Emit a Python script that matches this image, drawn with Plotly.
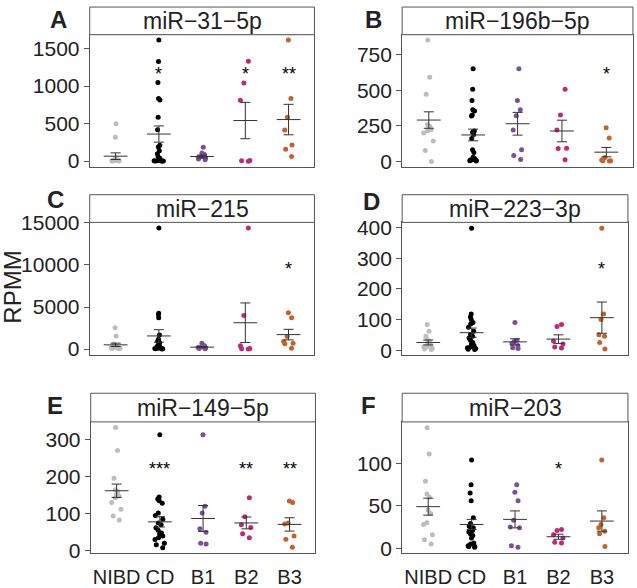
import plotly.graph_objects as go

# ---------------- data ----------------
groups = ["NIBD", "CD", "B1", "B2", "B3"]
group_colors = ["#BDBDBD", "#000000", "#7B4F9D", "#C2287A", "#C5622B"]

# A: miR-31-5p
mir31_5p = [
    [500, 320, 40, 30, 25, 20, 15, 10, 8, 5, 5, 3, 2],
    [1615, 1329, 1047, 836, 814, 585, 418, 211, 189, 140, 100, 60, 40, 20, 10, 5, 5, 3, 2, 0],
    [185, 110, 90, 60, 50, 40, 30, 20],
    [1330, 1040, 810, 10, 5, 0],
    [1615, 836, 585, 414, 216, 158, 62],
]
mir31_5p_mean = [66, 361, 62, 541, 554]
mir31_5p_se = [44, 108, 20, 242, 203]
mir31_5p_sig = ["", "*", "", "*", "**"]
mir31_5p_sig_y = [0, 1197, 0, 1197, 1197]

# B: miR-196b-5p
mir196b_5p = [
    [855, 592, 473, 260, 245, 233, 225, 215, 200, 144, 77, 0],
    [652, 508, 429, 363, 355, 326, 320, 214, 205, 190, 161, 82, 63, 30, 20, 12, 10, 8, 5, 3],
    [652, 429, 363, 321, 221, 82, 42, 14],
    [508, 326, 221, 93, 90, 12],
    [237, 165, 28, 10, 5, 5, 2],
]
mir196b_5p_mean = [291, 186, 265, 214, 65]
mir196b_5p_se = [58, 41, 80, 76, 33]
mir196b_5p_sig = ["", "", "", "", "*"]
mir196b_5p_sig_y = [0, 0, 0, 0, 633]

# C: miR-215
mir215 = [
    [2545, 1566, 600, 450, 350, 300, 250, 200, 150, 100, 80, 50],
    [14371, 4268, 4073, 3720, 1684, 1175, 950, 750, 500, 400, 300, 250, 200, 150, 120, 100, 80, 60, 40, 30],
    [700, 400, 250, 200, 150, 80, 50],
    [14371, 3994, 400, 80, 50, 30],
    [4307, 3720, 1500, 900, 700, 650, 100],
]
mir215_mean = [509, 1566, 235, 3133, 1723]
mir215_se = [200, 744, 60, 2350, 627]
mir215_sig = ["", "", "", "", "*"]
mir215_sig_y = [0, 0, 0, 0, 9868]

# D: miR-223-3p
mir223_3p = [
    [84, 62, 45, 35, 30, 22, 18, 12, 10, 6, 4, 2],
    [398, 118, 108, 100, 90, 85, 75, 62, 50, 45, 40, 32, 25, 20, 15, 10, 8, 5, 3, 2],
    [90, 32, 28, 22, 15, 8, 5],
    [84, 77, 30, 20, 10, 7],
    [398, 118, 100, 50, 45, 25, 4],
]
mir223_3p_mean = [25, 57, 27, 36, 106]
mir223_3p_se = [8, 15, 10, 14, 51]
mir223_3p_sig = ["", "", "", "", "*"]
mir223_3p_sig_y = [0, 0, 0, 0, 276]

# E: miR-149-5p
mir149_5p = [
    [333, 271, 196, 165, 160, 152, 148, 143, 130, 112, 94, 83],
    [313, 145, 140, 135, 128, 102, 95, 85, 75, 70, 62, 55, 48, 45, 40, 35, 30, 20, 16, 8],
    [313, 120, 102, 59, 50, 20, 18],
    [143, 92, 70, 63, 46, 35],
    [134, 130, 75, 72, 40, 31, 9],
]
mir149_5p_mean = [162, 78, 87, 75, 71]
mir149_5p_se = [18, 14, 35, 16, 18]
mir149_5p_sig = ["", "***", "", "**", "**"]
mir149_5p_sig_y = [0, 229, 0, 229, 229]

# F: miR-203
mir203 = [
    [142, 111, 79, 64, 60, 45, 41, 30, 28, 16, 10, 5],
    [104, 75, 65, 56, 36, 29, 26, 24, 22, 21, 19, 17, 15, 12, 6, 5, 3, 2, 2, 1],
    [75, 66, 56, 33, 25, 24, 3, 1],
    [22, 21, 16, 12, 7, 6],
    [104, 36, 28, 24, 20, 17, 2],
]
mir203_mean = [49, 28, 34, 13.5, 32]
mir203_se = [10, 6, 10, 3, 12]
mir203_sig = ["", "", "", "*", ""]
mir203_sig_y = [0, 0, 0, 97, 0]

panel_letters = ["A", "B", "C", "D", "E", "F"]
panel_titles = ["miR\u221231\u22125p", "miR\u2212196b\u22125p", "miR\u2212215",
                "miR\u2212223\u22123p", "miR\u2212149\u22125p", "miR\u2212203"]
panel_data = [mir31_5p, mir196b_5p, mir215, mir223_3p, mir149_5p, mir203]
panel_means = [mir31_5p_mean, mir196b_5p_mean, mir215_mean, mir223_3p_mean, mir149_5p_mean, mir203_mean]
panel_se = [mir31_5p_se, mir196b_5p_se, mir215_se, mir223_3p_se, mir149_5p_se, mir203_se]
panel_sig = [mir31_5p_sig, mir196b_5p_sig, mir215_sig, mir223_3p_sig, mir149_5p_sig, mir203_sig]
panel_sig_y = [mir31_5p_sig_y, mir196b_5p_sig_y, mir215_sig_y, mir223_3p_sig_y, mir149_5p_sig_y, mir203_sig_y]
panel_ticks = [[0, 500, 1000, 1500], [0, 250, 500, 750], [0, 5000, 10000, 15000],
               [0, 100, 200, 300, 400], [0, 100, 200, 300], [0, 50, 100]]

# ---------------- layout geometry (screen pixels) ----------------
W, H = 637, 588
# rendered paper area inside the page: offset (2, 8), size 632 x 572
PX0, PY0, PW, PH = 2.0, 8.0, 632.0, 572.0


def fx(px):
    return (px - PX0) / PW


def fy(py):
    return 1 - (py - PY0) / PH


panel_ranges = [[-79, 1685], [-40, 892], [-666, 15050], [-15, 417], [-7, 348], [-6, 149]]
# x0, x1, plot_top, plot_bottom, strip_top
boxes = [(91, 314, 32, 166, 4), (401, 630, 32, 166, 4),
         (91, 314, 222, 356, 194), (401, 625, 222, 356, 194),
         (92, 315, 424, 557, 395), (401, 625, 424, 557, 395)]
letter_pos = [(60, 17), (373, 17), (57, 199), (371, 201), (57, 407), (368, 407)]

FONT = "Liberation Sans, Arial, Helvetica, sans-serif"
AXC = "#555555"
TXT = "#222222"

fig = go.Figure()
annotations = []
shapes = []

for p in range(6):
    ax = "" if p == 0 else str(p + 1)
    xa, ya = "x" + ax, "y" + ax
    x0, x1, yt, yb, st = boxes[p]
    dom_x = [fx(x0), fx(x1)]
    dom_y = [fy(yb), fy(yt)]

    for g in range(5):
        vals = panel_data[p][g]
        fig.add_trace(go.Box(
            x=[g + 1] * len(vals), y=vals, boxpoints="all", jitter=0.55, pointpos=0,
            fillcolor="rgba(0,0,0,0)", line=dict(width=0, color="rgba(0,0,0,0)"),
            whiskerwidth=0,
            marker=dict(color=group_colors[g], size=5, line=dict(width=0)),
            showlegend=False, hoverinfo="skip", xaxis=xa, yaxis=ya))

    fig.add_trace(go.Scatter(
        x=[1, 2, 3, 4, 5], y=panel_means[p], mode="markers",
        marker=dict(symbol="line-ew", size=17, color="#333333",
                    line=dict(width=1, color="#333333")),
        error_y=dict(type="data", array=panel_se[p], visible=True,
                     color="#333333", thickness=1, width=5),
        showlegend=False, hoverinfo="skip", xaxis=xa, yaxis=ya))

    bottom = p >= 4
    fig.layout["xaxis" + ax] = dict(
        domain=dom_x, range=[0.4, 5.6], tickvals=[1, 2, 3, 4, 5], ticktext=groups,
        showticklabels=bottom, ticks="outside", ticklen=6, tickcolor="rgba(0,0,0,0)",
        showline=True, mirror=True,
        linecolor=AXC, linewidth=1, showgrid=False, zeroline=False,
        tickfont=dict(size=20, color=TXT, family=FONT), anchor=ya, fixedrange=True)
    fig.layout["yaxis" + ax] = dict(
        domain=dom_y, range=panel_ranges[p], tickvals=panel_ticks[p],
        ticktext=[str(v) for v in panel_ticks[p]],
        ticks="outside", ticklen=5, tickcolor=AXC, showline=True, mirror=True,
        linecolor=AXC, linewidth=1, showgrid=False, zeroline=False,
        tickfont=dict(size=21, color=TXT, family=FONT), anchor=xa, fixedrange=True)

    # significance stars
    for g in range(5):
        if panel_sig[p][g]:
            annotations.append(dict(
                x=g + 1, y=panel_sig_y[p][g], xref=xa, yref=ya, text=panel_sig[p][g],
                showarrow=False, font=dict(size=18, color="#000000", family=FONT),
                xanchor="center", yanchor="middle", yshift=-3))

    # strip
    shapes.append(dict(type="rect", xref="paper", yref="paper",
                       x0=fx(x0), x1=fx(x1), y0=fy(yt), y1=fy(st),
                       fillcolor="white", line=dict(color=AXC, width=1), layer="above"))
    annotations.append(dict(
        x=fx((x0 + x1) / 2), y=fy((st + yt) / 2), xref="paper", yref="paper",
        text=panel_titles[p], showarrow=False, xanchor="center", yanchor="middle",
        font=dict(size=23, color=TXT, family=FONT)))

    # panel letter
    lx, ly = letter_pos[p]
    annotations.append(dict(
        x=fx(lx), y=fy(ly), xref="paper", yref="paper",
        text="<b>" + panel_letters[p] + "</b>", showarrow=False,
        xanchor="center", yanchor="middle",
        font=dict(size=24, color=TXT, family=FONT)))

annotations.append(dict(
    x=fx(14), y=fy(288), xref="paper", yref="paper", text="RPMM",
    textangle=-90, showarrow=False, xanchor="center", yanchor="middle",
    font=dict(size=24, color=TXT, family=FONT)))

fig.update_layout(
    width=W, height=H, margin=dict(l=0, r=0, t=0, b=0),
    paper_bgcolor="white", plot_bgcolor="white",
    font=dict(family=FONT, color=TXT),
    boxmode="overlay", showlegend=False,
    annotations=annotations, shapes=shapes)

fig.write_html("out.html", post_script="document.body.style.margin='0px';",
               config={"displayModeBar": False})
